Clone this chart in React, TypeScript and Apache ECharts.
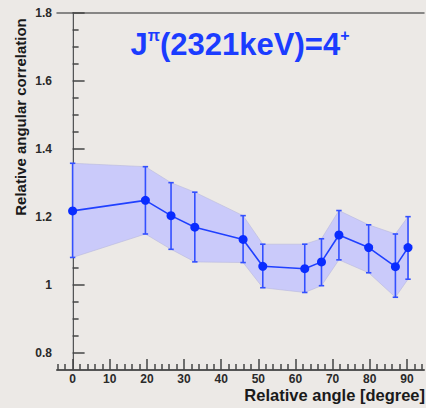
import React, { useEffect, useRef } from 'react';
import * as echarts from 'echarts';

// Relative angle between detectors [degree]
const angles = [0, 19.6, 26.5, 32.9, 45.9, 51.2, 62.5, 67.0, 71.7, 79.7, 86.9, 90.3];
// Relative angular correlation (measured)
const correlation = [1.218, 1.249, 1.204, 1.17, 1.134, 1.055, 1.048, 1.068, 1.147, 1.11, 1.054, 1.11];
// Upper / lower error limits
const upperLimit = [1.358, 1.348, 1.301, 1.273, 1.204, 1.12, 1.12, 1.136, 1.219, 1.177, 1.15, 1.201];
const lowerLimit = [1.081, 1.15, 1.105, 1.068, 1.066, 0.992, 0.978, 0.998, 1.074, 1.036, 0.964, 1.017];

const xTickValues = [0, 10, 20, 30, 40, 50, 60, 70, 80, 90];
const xMinorTickValues = [-4, -2, 2, 4, 6, 8, 12, 14, 16, 18, 22, 24, 26, 28, 32, 34, 36, 38, 42, 44, 46, 48, 52, 54, 56, 58, 62, 64, 66, 68, 72, 74, 76, 78, 82, 84, 86, 88, 92, 94];
const yTickValues = [0.8, 1.0, 1.2, 1.4, 1.6, 1.8];
const yMinorTickValues = [0.85, 0.9, 0.95, 1.05, 1.1, 1.15, 1.25, 1.3, 1.35, 1.45, 1.5, 1.55, 1.65, 1.7, 1.75];

const titleText = '{m|J}{s|π}{m|(2321keV)=4}{s|+}';
const xTitle = 'Relative angle [degree]';
const yTitle = 'Relative angular correlation';

const FONT = 'Liberation Sans, Arial, Helvetica, sans-serif';
const X_MIN = -4.2;
const X_MAX = 94.6;
const Y_MIN = 0.75;
const Y_MAX = 1.8;

export default function App() {
  const ref = useRef<HTMLDivElement>(null);

  useEffect(() => {
    if (!ref.current) return;
    const chart = echarts.init(ref.current, undefined, { renderer: 'svg' });

    const labelStyle = {
      color: '#2a2a2a',
      fontWeight: 'bold' as const,
      fontSize: 12,
      fontFamily: FONT,
    };

    const option: any = {
      animation: false,
      backgroundColor: '#ece9e6',
      grid: {
        left: 57,
        right: 2,
        top: 13,
        bottom: 38,
        outerBoundsMode: 'none',
        containLabel: false,
      },
      xAxis: [
        {
          type: 'value',
          min: X_MIN,
          max: X_MAX,
          position: 'bottom',
          axisLine: { show: true, lineStyle: { color: '#555', width: 2 } },
          axisTick: {
            show: true,
            inside: true,
            length: 11,
            customValues: xTickValues,
            lineStyle: { color: '#444', width: 1.5 },
          },
          axisLabel: { ...labelStyle, margin: 3, customValues: xTickValues },
          splitLine: { show: false },
        },
        {
          type: 'value',
          min: X_MIN,
          max: X_MAX,
          position: 'bottom',
          axisLine: { show: false },
          axisTick: {
            show: true,
            inside: true,
            length: 6,
            customValues: xMinorTickValues,
            lineStyle: { color: '#444', width: 1.5 },
          },
          axisLabel: { show: false },
          splitLine: { show: false },
        },
        {
          type: 'value',
          min: X_MIN,
          max: X_MAX,
          position: 'top',
          axisLine: { show: true, lineStyle: { color: '#666', width: 1.5 } },
          axisTick: { show: false },
          axisLabel: { show: false },
          splitLine: { show: false },
        },
      ],
      yAxis: [
        {
          type: 'value',
          min: Y_MIN,
          max: Y_MAX,
          position: 'left',
          axisLine: { show: true, lineStyle: { color: '#555', width: 2 } },
          axisTick: {
            show: true,
            inside: true,
            length: 12,
            customValues: yTickValues,
            lineStyle: { color: '#444', width: 1.5 },
          },
          axisLabel: {
            ...labelStyle,
            margin: 5,
            customValues: yTickValues,
            formatter: (v: number) => String(Math.round(v * 10) / 10),
          },
          splitLine: { show: false },
        },
        {
          type: 'value',
          min: Y_MIN,
          max: Y_MAX,
          position: 'left',
          axisLine: { show: false },
          axisTick: {
            show: true,
            inside: true,
            length: 6,
            customValues: yMinorTickValues,
            lineStyle: { color: '#444', width: 1.5 },
          },
          axisLabel: { show: false },
          splitLine: { show: false },
        },
        {
          type: 'value',
          min: Y_MIN,
          max: Y_MAX,
          position: 'right',
          axisLine: { show: true, lineStyle: { color: '#c4c4c4', width: 1 } },
          axisTick: { show: false },
          axisLabel: { show: false },
          splitLine: { show: false },
        },
      ],
      graphic: [
        {
          type: 'text',
          x: 240,
          y: 44,
          z: 100,
          style: {
            text: titleText,
            textAlign: 'center',
            textVerticalAlign: 'middle',
            rich: {
              m: {
                fontSize: 31,
                fontWeight: 'bold',
                fontFamily: FONT,
                fill: '#1b3cff',
                lineHeight: 33,
              },
              s: {
                fontSize: 16,
                fontWeight: 'bold',
                fontFamily: FONT,
                fill: '#1b3cff',
                verticalAlign: 'top',
                lineHeight: 33,
              },
            },
          },
        },
        {
          type: 'text',
          x: 425,
          y: 395,
          style: {
            text: xTitle,
            textAlign: 'right',
            textVerticalAlign: 'middle',
            font: `bold 16.5px ${FONT}`,
            fill: '#1a1a1a',
          },
        },
        {
          type: 'text',
          x: 20,
          y: 117,
          rotation: Math.PI / 2,
          style: {
            text: yTitle,
            textAlign: 'center',
            textVerticalAlign: 'middle',
            font: `bold 15px ${FONT}`,
            fill: '#1a1a1a',
          },
        },
      ],
      series: [
        {
          type: 'custom',
          name: 'band',
          xAxisIndex: 0,
          yAxisIndex: 0,
          z: 1,
          silent: true,
          data: [[angles[0], correlation[0]]],
          renderItem: (_params: any, api: any) => {
            const top = angles.map((a, i) => api.coord([a, upperLimit[i]]));
            const bottom = angles.map((a, i) => api.coord([a, lowerLimit[i]])).reverse();
            return {
              type: 'polygon',
              shape: { points: top.concat(bottom) },
              style: { fill: '#cacafa', stroke: '#b8b8dc', lineWidth: 0.6 },
            };
          },
        },
        {
          type: 'custom',
          name: 'errors',
          xAxisIndex: 0,
          yAxisIndex: 0,
          z: 2,
          silent: true,
          data: angles.map((a, i) => [a, lowerLimit[i], upperLimit[i]]),
          encode: { x: 0, y: [1, 2] },
          renderItem: (_params: any, api: any) => {
            const x = api.value(0);
            const lo = api.coord([x, api.value(1)]);
            const hi = api.coord([x, api.value(2)]);
            const cap = 2.7;
            const stroke = { stroke: '#3350ff', lineWidth: 1.6 };
            return {
              type: 'group',
              children: [
                { type: 'line', shape: { x1: lo[0], y1: lo[1], x2: hi[0], y2: hi[1] }, style: stroke },
                { type: 'line', shape: { x1: lo[0] - cap, y1: lo[1], x2: lo[0] + cap, y2: lo[1] }, style: stroke },
                { type: 'line', shape: { x1: hi[0] - cap, y1: hi[1], x2: hi[0] + cap, y2: hi[1] }, style: stroke },
              ],
            };
          },
        },
        {
          type: 'line',
          name: 'correlation',
          xAxisIndex: 0,
          yAxisIndex: 0,
          z: 3,
          data: angles.map((a, i) => [a, correlation[i]]),
          symbol: 'circle',
          symbolSize: 9,
          itemStyle: { color: '#0a2cff' },
          lineStyle: { color: '#2040ff', width: 1.6 },
        },
      ],
    };

    chart.setOption(option);
    return () => chart.dispose();
  }, []);

  return (
    <div
      ref={ref}
      style={{ position: 'absolute', left: 0, top: 0, width: 426, height: 408 }}
    />
  );
}
